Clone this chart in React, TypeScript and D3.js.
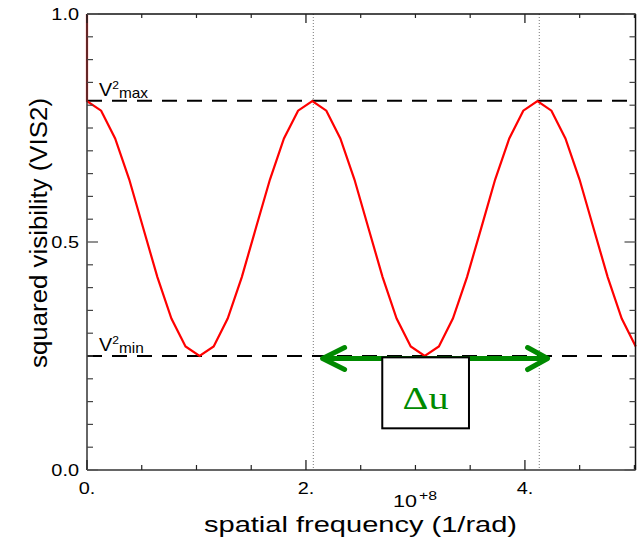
import React from "react";
import * as d3 from "d3";

// spatial frequency (units of 1e8 1/rad)
const uValues: number[] = [
  0.0, 0.0, 0.129, 0.257, 0.386, 0.514, 0.643, 0.771, 0.9, 1.028, 1.157, 1.285, 1.414,
  1.542, 1.671, 1.799, 1.928, 2.058, 2.186, 2.314, 2.443, 2.571, 2.7, 2.828, 2.957,
  3.085, 3.214, 3.342, 3.471, 3.6, 3.728, 3.857, 3.985, 4.114, 4.242, 4.37, 4.499,
  4.627, 4.756, 4.884, 5.012,
];
// squared visibility
const vis2Values: number[] = [
  1.0, 0.809, 0.788, 0.727, 0.637, 0.53, 0.423, 0.332, 0.271, 0.25, 0.271, 0.332, 0.423,
  0.53, 0.637, 0.727, 0.788, 0.809, 0.788, 0.727, 0.637, 0.53, 0.423, 0.332, 0.271,
  0.25, 0.271, 0.332, 0.423, 0.53, 0.637, 0.727, 0.788, 0.809, 0.788, 0.727, 0.637,
  0.53, 0.423, 0.332, 0.271,
];
const vMax = 0.81;
const vMin = 0.25;
const peakLines: number[] = [2.067, 4.131];
const arrowStart = 2.152;
const arrowEnd = 4.207;
const arrowLevel = 0.2445;
const boxU: number[] = [2.697, 3.489];
const boxV: number[] = [0.0914, 0.247];

const xMajorTicks: number[] = [0, 2, 4];
const xTickLabels: string[] = ["0.", "2.", "4."];
const yMajorTicks: number[] = [0, 0.5, 1.0];
const yTickLabels: string[] = ["0.0", "0.5", "1.0"];

const W = 644;
const H = 541;
const L = 87;
const R = 635.5;
const T = 14;
const B = 470;

export default function App() {
  const x = d3.scaleLinear().domain([0, 5.01]).range([L, R]);
  const y = d3.scaleLinear().domain([0, 1]).range([B, T]);

  const line = d3
    .line<number>()
    .x((_, i) => x(uValues[i]))
    .y((d) => y(d));

  const xMinor = d3.range(0, 5.01, 0.5).filter((v) => Math.abs(v % 2) > 1e-6);
  const yMinor = d3.range(0, 1.0001, 0.05).filter(
    (v) => !yMajorTicks.some((m) => Math.abs(m - v) < 1e-6)
  );

  const sans = "'Liberation Sans', Arial, Helvetica, sans-serif";
  const green = "#008a00";
  const ay = y(arrowLevel);

  return (
    <svg
      width={W}
      height={H}
      style={{ position: "absolute", left: 0, top: 0, background: "#fff" }}
      fontFamily={sans}
    >
      <rect x={0} y={0} width={W} height={H} fill="#fff" />

      {/* dotted vertical lines at peaks */}
      {peakLines.map((p, i) => (
        <line
          key={"pl" + i}
          x1={x(p)}
          x2={x(p)}
          y1={T}
          y2={B}
          stroke="#777"
          strokeWidth={1}
          strokeDasharray="1,2"
        />
      ))}

      {/* dashed V2max / V2min */}
      {[vMax, vMin].map((v, i) => (
        <line
          key={"dl" + i}
          x1={L}
          x2={R}
          y1={y(v)}
          y2={y(v)}
          stroke="#000"
          strokeWidth={2}
          strokeDasharray="15,10"
        />
      ))}

      {/* curve */}
      <path d={line(vis2Values) || ""} fill="none" stroke="#ff0000" strokeWidth={2.2} />

      {/* frame */}
      <line x1={L} x2={R} y1={T} y2={T} stroke="#111" strokeWidth={1.5} />
      <line x1={L} x2={R} y1={B} y2={B} stroke="#333" strokeWidth={1.5} />
      <line x1={L} x2={L} y1={T} y2={B} stroke="#333" strokeWidth={1.5} />
      <line x1={R} x2={R} y1={T} y2={B} stroke="#111" strokeWidth={1.5} />

      {/* x ticks bottom & top */}
      {xMajorTicks.map((t, i) => (
        <g key={"xM" + i}>
          <line x1={x(t)} x2={x(t)} y1={B} y2={B - 10} stroke="#222" strokeWidth={1.3} />
          <line x1={x(t)} x2={x(t)} y1={T} y2={T + 9} stroke="#222" strokeWidth={1.3} />
          <text
            x={0}
            y={0}
            transform={`translate(${x(t)},494) scale(1.17,1)`}
            textAnchor="middle"
            fontSize={17}
            fill="#000"
          >
            {xTickLabels[i]}
          </text>
        </g>
      ))}
      {xMinor.map((t, i) => (
        <g key={"xm" + i}>
          <line x1={x(t)} x2={x(t)} y1={B} y2={B - 5} stroke="#222" strokeWidth={1.2} />
          <line x1={x(t)} x2={x(t)} y1={T} y2={T + 4} stroke="#222" strokeWidth={1.2} />
        </g>
      ))}

      {/* y ticks left & right */}
      {yMajorTicks.map((t, i) => (
        <g key={"yM" + i}>
          <line x1={L} x2={L + 11} y1={y(t)} y2={y(t)} stroke="#555" strokeWidth={1.3} />
          <line x1={R} x2={R - 11} y1={y(t)} y2={y(t)} stroke="#555" strokeWidth={1.3} />
          <text
            x={0}
            y={0}
            transform={`translate(79,${y(t) + 6}) scale(1.17,1)`}
            textAnchor="end"
            fontSize={17}
            fill="#000"
          >
            {yTickLabels[i]}
          </text>
        </g>
      ))}
      {yMinor.map((t, i) => (
        <g key={"ym" + i}>
          <line x1={L} x2={L + 6} y1={y(t)} y2={y(t)} stroke="#444" strokeWidth={1.2} />
          <line x1={R} x2={R - 6} y1={y(t)} y2={y(t)} stroke="#444" strokeWidth={1.2} />
        </g>
      ))}

      {/* V2 labels */}
      {[
        { v: vMax, sub: "max" },
        { v: vMin, sub: "min" },
      ].map((o, i) => (
        <text
          key={"vl" + i}
          x={0}
          y={0}
          transform={`translate(99,${y(o.v) - 5}) scale(1.1,1)`}
          fontSize={18}
          fill="#000"
        >
          V
          <tspan fontSize={11} dy={-7}>
            2
          </tspan>
          <tspan fontSize={14} dy={9}>
            {o.sub}
          </tspan>
        </text>
      ))}

      {/* green arrow */}
      <g stroke={green} strokeWidth={5} fill="none" strokeLinecap="round" strokeLinejoin="round">
        <line x1={x(arrowStart) + 3} x2={x(arrowEnd) - 3} y1={ay} y2={ay} />
        <polyline
          points={`${x(arrowStart) + 22},${ay - 11} ${x(arrowStart)},${ay} ${x(arrowStart) + 22},${ay + 11}`}
        />
        <polyline
          points={`${x(arrowEnd) - 20},${ay - 11} ${x(arrowEnd)},${ay} ${x(arrowEnd) - 20},${ay + 11}`}
        />
      </g>

      {/* delta u box */}
      <rect
        x={x(boxU[0])}
        y={y(boxV[1])}
        width={x(boxU[1]) - x(boxU[0])}
        height={y(boxV[0]) - y(boxV[1])}
        fill="#fff"
        stroke="#000"
        strokeWidth={2}
      />
      <text
        x={(x(boxU[0]) + x(boxU[1])) / 2}
        y={409}
        textAnchor="middle"
        fontFamily="'Liberation Serif', 'Times New Roman', serif"
        fontSize={32}
        textLength={46}
        lengthAdjust="spacingAndGlyphs"
        fill={green}
      >
        Δu
      </text>

      {/* axis labels */}
      <text
        x={360.5}
        y={532}
        textAnchor="middle"
        fontSize={22}
        textLength={313}
        lengthAdjust="spacingAndGlyphs"
        fill="#000"
      >
        spatial frequency (1/rad)
      </text>
      <text x={393} y={507} fontSize={16} textLength={24} lengthAdjust="spacingAndGlyphs" fill="#000">
        10
      </text>
      <text x={419} y={500} fontSize={12} textLength={18} lengthAdjust="spacingAndGlyphs" fill="#000">
        +8
      </text>
      <text
        x={0}
        y={0}
        transform={`translate(47,233) rotate(-90)`}
        textAnchor="middle"
        fontSize={23}
        textLength={270}
        lengthAdjust="spacingAndGlyphs"
        fill="#000"
      >
        squared visibility (VIS2)
      </text>
    </svg>
  );
}
